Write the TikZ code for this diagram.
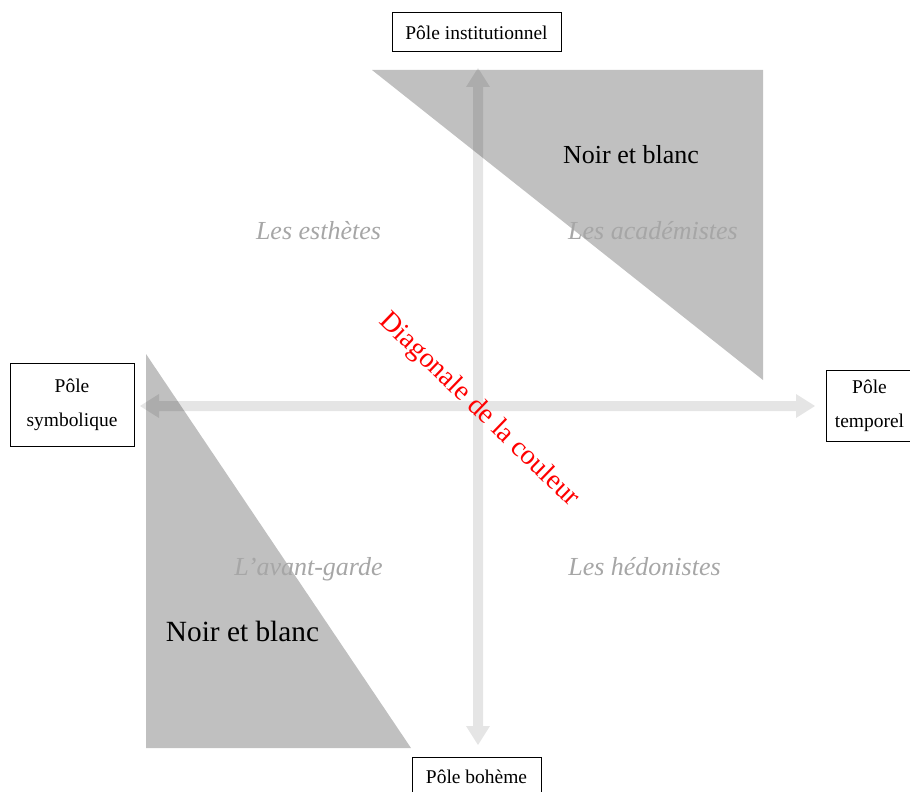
\documentclass[tikz,border=0pt]{standalone}
\usepackage{fontspec}
\setmainfont{Liberation Serif}
\usetikzlibrary{calc}
\definecolor{trigray}{HTML}{C0C0C0}
\definecolor{labgray}{HTML}{A6A6A6}
\definecolor{diagred}{HTML}{FF0000}
\tikzset{
  pole/.style={draw=black, line width=0.75pt, fill=white, align=center, inner sep=0pt,
    font=\fontsize{14.6}{25.5}\selectfont},
  quadlabel/.style={text=labgray, anchor=base, inner sep=0pt, font=\fontsize{19.5}{22}\selectfont\itshape},
  nbtext/.style={text=black, anchor=base, inner sep=0pt},
  zone/.style={fill=trigray, draw=none},
  axis/.style={fill=black, fill opacity=0.1, draw=none}
}
\begin{document}
\begin{tikzpicture}[x=0.75pt,y=-0.75pt]
\useasboundingbox (0,0) rectangle (910,792);
% shaded zones
\fill[zone] (372,70) -- (763,70) -- (763,380) -- cycle;
\fill[zone] (146,354) -- (146,748) -- (411,748) -- cycle;
% axis end points
\coordinate (tN) at (478,68);
\coordinate (tS) at (478,745);
\coordinate (tW) at (140,406);
\coordinate (tE) at (815,406);
% both double arrows in one path (no darker crossing)
\fill[axis]
  (tN) -- ++(-12,19) -- ++(7,0) -- ($(tS)+(-5,-19)$) -- ++(-7,0) -- (tS)
       -- ++(12,-19) -- ++(-7,0) -- ($(tN)+(5,19)$) -- ++(7,0) -- cycle
  (tW) -- ++(19,12) -- ++(0,-7) -- ($(tE)+(-19,5)$) -- ++(0,7) -- (tE)
       -- ++(-19,-12) -- ++(0,7) -- ($(tW)+(19,-5)$) -- ++(0,-7) -- cycle;
% pole boxes
\node[pole, minimum width=126.75pt, minimum height=29.25pt] (inst) at (476.5,32.5) {Pôle institutionnel};
\node[pole, minimum width=93pt, minimum height=62.25pt] (symb) at (72,404.5) {Pôle\\symbolique};
\node[pole, minimum width=65pt, minimum height=53.25pt] (temp) at (869.5,405.5) {Pôle\\temporel};
\node[pole, minimum width=96.75pt, minimum height=29.25pt] (boh) at (476.5,776.5) {Pôle bohème};
% quadrant labels
\node[quadlabel] (esth) at (318.5,239) {Les esthètes};
\node[quadlabel] (acad) at (653,239) {Les académistes};
\node[quadlabel] (avant) at (308.5,575) {L’avant-garde};
\node[quadlabel] (hedo) at (644.5,575) {Les hédonistes};
% noir et blanc
\node[nbtext, font=\fontsize{19.5}{22}\selectfont] (nb1) at (631,163) {Noir et blanc};
\node[nbtext, font=\fontsize{22}{24}\selectfont] (nb2) at (242.5,641) {Noir et blanc};
% diagonal
\node[text=diagred, rotate=-44, inner sep=0pt, font=\fontsize{21}{23}\selectfont] (diag) at (479,410) {Diagonale de la couleur};
\end{tikzpicture}
\end{document}
